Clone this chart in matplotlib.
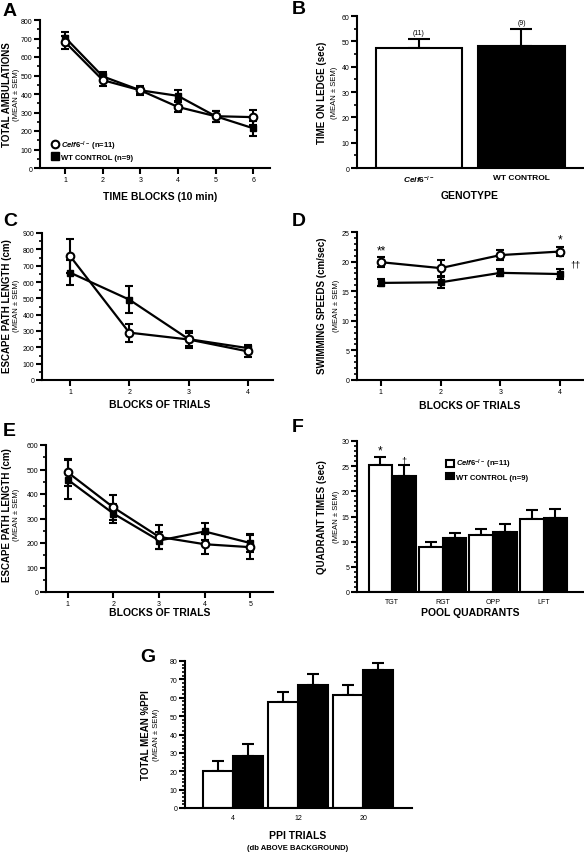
import numpy as np
import matplotlib
matplotlib.use("Agg")
import matplotlib.pyplot as plt
from matplotlib.ticker import MultipleLocator
from matplotlib.lines import Line2D

plt.rcParams['font.family'] = ['Liberation Sans', 'DejaVu Sans']
plt.rcParams['mathtext.fontset'] = 'custom'
plt.rcParams['mathtext.it'] = 'Liberation Sans:italic:bold'
plt.rcParams['mathtext.rm'] = 'Liberation Sans:bold'

# ---- data ----
ko_name = r'$\it{Celf6}^{-/-}$'

# A: locomotor activity
a_blocks = [1, 2, 3, 4, 5, 6]
a_ko = [680, 475, 420, 330, 280, 275]
a_ko_err = [35, 30, 20, 25, 30, 40]
a_wt = [705, 495, 420, 390, 280, 215]
a_wt_err = [30, 25, 25, 30, 30, 40]

# B: ledge
b_groups = [ko_name, 'WT CONTROL']
b_vals = [47.3, 48.0]
b_err = [3.8, 6.8]
b_n = ['(11)', '(9)']

# C: escape path length (cued)
c_blocks = [1, 2, 3, 4]
c_ko = [760, 290, 248, 175]
c_ko_err = [105, 55, 52, 35]
c_wt = [658, 492, 250, 195]
c_wt_err = [78, 83, 40, 20]

# D: swimming speeds
d_blocks = [1, 2, 3, 4]
d_ko = [19.9, 18.9, 21.1, 21.7]
d_ko_err = [0.8, 1.3, 0.8, 0.8]
d_wt = [16.4, 16.5, 18.1, 17.9]
d_wt_err = [0.6, 0.9, 0.6, 0.9]

# E: escape path length (place)
e_blocks = [1, 2, 3, 4, 5]
e_ko = [488, 345, 225, 195, 183]
e_ko_err = [55, 50, 50, 40, 50]
e_wt = [458, 320, 210, 247, 200]
e_wt_err = [80, 40, 35, 35, 35]

# F: probe trial quadrant times
f_quads = ['TGT', 'RGT', 'OPP', 'LFT']
f_ko = [25.3, 9.0, 11.4, 14.6]
f_ko_err = [1.6, 1.0, 1.2, 1.7]
f_wt = [23.0, 10.7, 11.9, 14.8]
f_wt_err = [2.2, 1.1, 1.7, 1.7]

# G: prepulse inhibition
g_trials = ['4', '12', '20']
g_ko = [20.3, 57.8, 61.7]
g_ko_err = [5.5, 5.3, 5.0]
g_wt = [28.3, 67.0, 75.0]
g_wt_err = [6.5, 5.8, 3.8]

W, H = 584, 853
fig = plt.figure(figsize=(W / 100, H / 100), dpi=100)


def add_ax(left, top, right, bottom):
    return fig.add_axes([left / W, 1 - bottom / H, (right - left) / W, (bottom - top) / H])


def ftext(x, y, s, **kw):
    fig.text(x / W, 1 - y / H, s, **kw)


def style(ax, ymax, major, minor):
    for s in ['top', 'right']:
        ax.spines[s].set_visible(False)
    for s in ['left', 'bottom']:
        ax.spines[s].set_linewidth(1.5)
    ax.set_ylim(0, ymax)
    ax.yaxis.set_major_locator(MultipleLocator(major))
    ax.yaxis.set_minor_locator(MultipleLocator(minor))
    ax.tick_params(axis='both', which='major', length=4, width=1.5, labelsize=5, pad=1.5)
    ax.tick_params(axis='y', which='minor', length=2.5, width=1.2)


def ylabels(x_main, x_sub, yc, main):
    ftext(x_main, yc, main, rotation=90, ha='center', va='center', fontsize=7, fontweight='bold')
    ftext(x_sub, yc, '(MEAN \u00b1 SEM)', rotation=90, ha='center', va='center', fontsize=5.5)


def lines(ax, x, ko, ko_err, wt, wt_err):
    ax.errorbar(x, wt, yerr=wt_err, color='black', lw=1.6, marker='s', ms=5,
                mfc='black', mec='black', capsize=3, capthick=1.5, elinewidth=1.5, zorder=3)
    ax.errorbar(x, ko, yerr=ko_err, color='black', lw=1.6, marker='o', ms=5.5,
                mfc='white', mec='black', mew=1.5, capsize=3, capthick=1.5, elinewidth=1.5,
                zorder=4)


def panel(x, y, letter):
    ftext(x, y, letter, ha='left', va='center', fontsize=14, fontweight='bold')


# ---- A ----
ax = add_ax(40, 21, 270, 169)
style(ax, 800, 100, 50)
lines(ax, a_blocks, a_ko, a_ko_err, a_wt, a_wt_err)
ax.set_xlim(0.33, 6.45)
ax.set_xticks(a_blocks)
leg_h = [Line2D([], [], ls='none', marker='o', ms=5.5, mfc='white', mec='black', mew=1.5),
         Line2D([], [], ls='none', marker='s', ms=6, mfc='black', mec='black')]
ax.legend(leg_h, [ko_name + ' (n=11)', 'WT CONTROL (n=9)'], loc='lower left',
          bbox_to_anchor=(0.03, 0.01), frameon=False, handlelength=0.8, handletextpad=0.4,
          borderpad=0.2, labelspacing=0.3, prop={'weight': 'bold', 'size': 5.5})
ylabels(7, 17, 95, 'TOTAL AMBULATIONS')
ftext(160, 197, 'TIME BLOCKS (10 min)', ha='center', va='center', fontsize=7.5, fontweight='bold')
panel(3, 11, 'A')

# ---- B ----
ax = add_ax(357, 17, 584, 169)
style(ax, 60, 10, 5)
xb = np.arange(len(b_vals))
ax.bar(xb, b_vals, width=0.84, color=['white', 'black'], edgecolor='black', lw=1.5, zorder=2)
ax.errorbar(xb, b_vals, yerr=[[0, 0], b_err], fmt='none', ecolor='black',
            elinewidth=1.5, capsize=8, capthick=1.5, zorder=1)
for xi, v, e, n in zip(xb, b_vals, b_err, b_n):
    ax.text(xi, v + e + 1.2, n, ha='center', va='bottom', fontsize=5)
ax.set_xlim(-0.605, 1.61)
ax.set_xticks(xb)
ax.set_xticklabels(b_groups, fontsize=6, fontweight='bold')
ax.tick_params(axis='x', length=0, pad=4)
ylabels(322, 335, 93, 'TIME ON LEDGE (sec)')
ftext(470, 196, 'GENOTYPE', ha='center', va='center', fontsize=7.5, fontweight='bold')
panel(292, 10, 'B')

# ---- C ----
ax = add_ax(42, 234, 273, 381)
style(ax, 900, 100, 50)
lines(ax, c_blocks, c_ko, c_ko_err, c_wt, c_wt_err)
ax.set_xlim(0.53, 4.42)
ax.set_xticks(c_blocks)
ylabels(7, 16, 306, 'ESCAPE PATH LENGTH (cm)')
ftext(160, 405, 'BLOCKS OF TRIALS', ha='center', va='center', fontsize=7.5, fontweight='bold')
panel(3, 222, 'C')

# ---- D ----
ax = add_ax(357, 233, 584, 381)
style(ax, 25, 5, 1)
lines(ax, d_blocks, d_ko, d_ko_err, d_wt, d_wt_err)
ax.set_xlim(0.6, 4.4)
ax.set_xticks(d_blocks)
ax.text(1, d_ko[0] + d_ko_err[0] + 0.2, '**', ha='center', va='bottom', fontsize=8.5)
ax.text(4, d_ko[3] + d_ko_err[3] + 0.2, '*', ha='center', va='bottom', fontsize=8.5)
ax.text(4.17, 19.6, '\u2020\u2020', ha='left', va='center', fontsize=6.5)
ylabels(322, 336, 306, 'SWIMMING SPEEDS (cm/sec)')
ftext(470, 406, 'BLOCKS OF TRIALS', ha='center', va='center', fontsize=7.5, fontweight='bold')
panel(292, 222, 'D')

# ---- E ----
ax = add_ax(46, 446, 273, 593)
style(ax, 600, 100, 50)
lines(ax, e_blocks, e_ko, e_ko_err, e_wt, e_wt_err)
ax.set_xlim(0.52, 5.5)
ax.set_xticks(e_blocks)
ylabels(7, 16, 515, 'ESCAPE PATH LENGTH (cm)')
ftext(160, 613, 'BLOCKS OF TRIALS', ha='center', va='center', fontsize=7.5, fontweight='bold')
panel(3, 432, 'E')


def grouped(ax, ko, ko_err, wt, wt_err, width):
    x = np.arange(len(ko))
    ax.bar(x - width / 2, ko, width=width, color='white', edgecolor='black', lw=1.5,
           zorder=2, label=ko_name + ' (n=11)')
    ax.bar(x + width / 2, wt, width=width, color='black', edgecolor='black', lw=1.5,
           zorder=2, label='WT CONTROL (n=9)')
    ax.errorbar(x - width / 2, ko, yerr=[np.zeros(len(ko)), ko_err], fmt='none', ecolor='black',
                elinewidth=1.5, capsize=4, capthick=1.5, zorder=1)
    ax.errorbar(x + width / 2, wt, yerr=[np.zeros(len(wt)), wt_err], fmt='none', ecolor='black',
                elinewidth=1.5, capsize=4, capthick=1.5, zorder=1)
    return x


# ---- F ----
ax = add_ax(357, 442, 584, 593)
style(ax, 30, 5, 1)
xf = grouped(ax, f_ko, f_ko_err, f_wt, f_wt_err, 0.47)
ax.set_xlim(-0.7, 3.8)
ax.set_xticks(xf)
ax.set_xticklabels(f_quads)
ax.tick_params(axis='x', length=0, pad=4)
ax.text(-0.235, f_ko[0] + f_ko_err[0] + 0.05, '*', ha='center', va='bottom', fontsize=8.5)
ax.text(0.235, f_wt[0] + f_wt_err[0] + 0.1, '\u2020', ha='center', va='bottom', fontsize=6.5)
ax.legend(loc='upper left', bbox_to_anchor=(0.37, 0.93), frameon=False, handlelength=1.0,
          handleheight=1.0, handletextpad=0.3, borderpad=0.2, labelspacing=0.3,
          prop={'weight': 'bold', 'size': 5.5})
ylabels(322, 336, 517, 'QUADRANT TIMES (sec)')
ftext(470, 613, 'POOL QUADRANTS', ha='center', va='center', fontsize=7.5, fontweight='bold')
panel(292, 428, 'F')

# ---- G ----
ax = add_ax(185, 662, 412, 809)
style(ax, 80, 10, 2)
xg = grouped(ax, g_ko, g_ko_err, g_wt, g_wt_err, 0.46)
ax.set_xlim(-0.74, 2.75)
ax.set_xticks(xg)
ax.set_xticklabels(g_trials)
ax.tick_params(axis='x', length=0, pad=4)
ylabels(146, 157, 735, 'TOTAL MEAN %PPI')
ftext(298, 836, 'PPI TRIALS', ha='center', va='center', fontsize=7.5, fontweight='bold')
ftext(298, 849, '(db ABOVE BACKGROUND)', ha='center', va='center', fontsize=5.5, fontweight='bold')
panel(140, 658, 'G')

fig.savefig('out.png', dpi=100)
